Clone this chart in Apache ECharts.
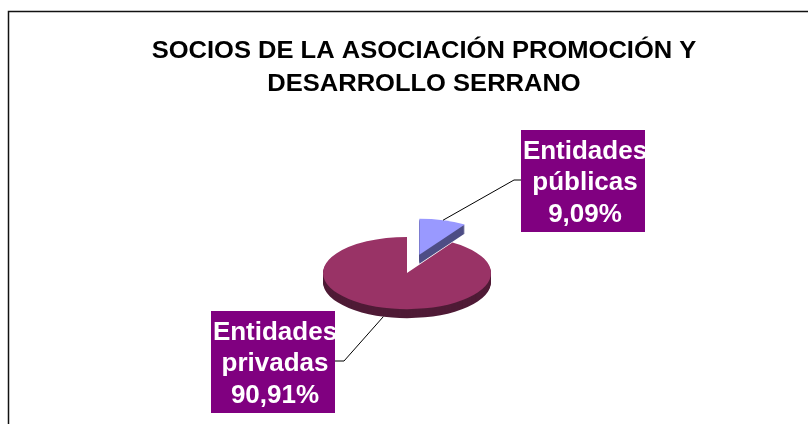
<!DOCTYPE html>
<html>
<head>
<meta charset="utf-8">
<script src="https://cdn.jsdelivr.net/npm/echarts@6/dist/echarts.min.js"></script>
<style>
  html, body { margin: 0; padding: 0; background: #fff; }
  #main { width: 808px; height: 424px; }
</style>
</head>
<body>
<div id="main"></div>
<script>
// datos del grafico
var categorias = ['Entidades públicas', 'Entidades privadas'];
var socios = [1, 10];
var tituloLineas = ['SOCIOS DE LA ASOCIACIÓN PROMOCIÓN Y', 'DESARROLLO SERRANO'];

// colores (cara superior y lateral)
var colorCara = ['#9999ff', '#993366'];
var colorLado = ['#4d4d85', '#4f1b36'];

// geometria de la tarta "3D"
var CX = 407, CY = 273, RX = 84, SQ = 0.43, FONDO = 9;
var separacion = [44, 0];
// cajas de etiquetas: borde izquierdo, borde superior, codo y final de la linea
var cajas = [
  { x: 521, y: 130, codo: [514, 180], fin: [521, 180] },
  { x: 211, y: 311, codo: [344, 361], fin: [335, 361] }
];

var total = socios.reduce(function (a, b) { return a + b; }, 0);

function porcentaje(v) {
  return (v / total * 100).toFixed(2).replace('.', ',') + '%';
}

var myChart = echarts.init(document.getElementById('main'));

var option = {
  animation: false,
  graphic: [
    {
      type: 'polyline',
      shape: { points: [[8.5, 430], [8.5, 11.5], [810, 11.5]] },
      style: { stroke: '#111', lineWidth: 1.5, fill: null }
    },
    {
      type: 'text',
      x: 424,
      y: 68.5,
      scaleX: 1.11,
      style: {
        text: tituloLineas.join('\n'),
        font: 'bold 23px "Liberation Sans", Arial, sans-serif',
        fill: '#000',
        align: 'center',
        verticalAlign: 'middle',
        lineHeight: 33
      }
    }
  ],
  series: [
    {
      type: 'custom',
      coordinateSystem: 'none',
      data: socios.map(function (v, i) { return { name: categorias[i], value: [v] }; }),
      renderItem: function (params, api) {
        var i = params.dataIndex;
        var v = api.value(0);
        var antes = 0;
        for (var j = 0; j < i; j++) antes += socios[j];
        var a0 = -Math.PI / 2 + antes / total * Math.PI * 2;
        var a1 = a0 + v / total * Math.PI * 2;
        var mid = (a0 + a1) / 2;
        var ox = CX + Math.cos(mid) * separacion[i];
        var oy = CY + Math.sin(mid) * separacion[i] * SQ;

        var hijos = [];
        // lateral: copias desplazadas hacia abajo
        for (var k = FONDO; k >= 1; k--) {
          hijos.push({
            type: 'sector',
            x: ox, y: oy + k, scaleY: SQ,
            shape: { cx: 0, cy: 0, r0: 0, r: RX, startAngle: a0, endAngle: a1, clockwise: true },
            style: { fill: colorLado[i] }
          });
        }
        // cara superior
        hijos.push({
          type: 'sector',
          x: ox, y: oy, scaleY: SQ,
          shape: { cx: 0, cy: 0, r0: 0, r: RX, startAngle: a0, endAngle: a1, clockwise: true },
          style: { fill: colorCara[i] }
        });

        // linea de la etiqueta
        var delante = Math.sin(mid) > 0;
        var sx = ox + Math.cos(mid) * RX;
        var sy = oy + Math.sin(mid) * RX * SQ + (delante ? FONDO : 0);
        var c = cajas[i];
        hijos.push({
          type: 'polyline',
          z2: 10,
          shape: { points: [[sx, sy], c.codo, c.fin] },
          style: { stroke: '#000', lineWidth: 1, fill: null }
        });
        // etiqueta: caja morada y texto blanco (lo que sobresale queda blanco sobre blanco)
        hijos.push({
          type: 'rect',
          z2: 11,
          shape: { x: c.x, y: c.y, width: 124, height: 102 },
          style: { fill: '#800080' }
        });
        var nombre = categorias[i].split(' ').join('\n');
        hijos.push({
          type: 'text',
          z2: 12,
          x: c.x + 64, y: c.y + 6,
          style: {
            text: nombre + '\n' + porcentaje(v),
            font: 'bold 26px "Liberation Sans", Arial, sans-serif',
            fill: '#fff',
            align: 'center',
            verticalAlign: 'top',
            lineHeight: 31.5
          }
        });
        return { type: 'group', children: hijos };
      }
    }
  ]
};

myChart.setOption(option);
</script>
</body>
</html>
